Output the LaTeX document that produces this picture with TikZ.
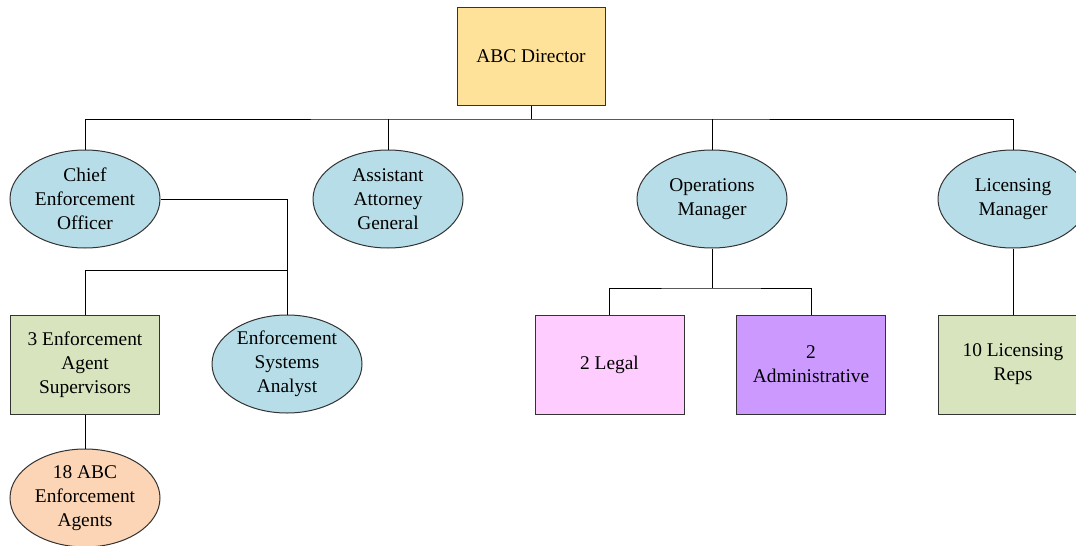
\documentclass[tikz,border=0pt]{standalone}
\usepackage{fontspec}
\setmainfont{Liberation Serif}
\usetikzlibrary{shapes.geometric}
\definecolor{gold}{HTML}{FFE29A}
\definecolor{lblue}{HTML}{B7DEE8}
\definecolor{lgreen}{HTML}{D7E4BD}
\definecolor{peach}{HTML}{FBD5B5}
\definecolor{lpink}{HTML}{FFCCFF}
\definecolor{lpurple}{HTML}{CC99FF}
\tikzset{
  base/.style={draw=black!80, line width=1pt, align=center, inner sep=0pt,
    font=\fontsize{19.4}{24}\selectfont, text=black},
  boxnode/.style={base, rectangle, minimum width=149pt, minimum height=99pt},
  ellnode/.style={base, ellipse, minimum width=150pt, minimum height=98pt},
  conn/.style={draw=black, line width=1pt}
}
\begin{document}
\begin{tikzpicture}[x=1pt,y=-1pt]
\useasboundingbox (0,0) rectangle (1076,546);
\fill[white] (0,0) rectangle (1076,546);
\node[boxnode, fill=gold, minimum width=148pt, minimum height=98pt] (dir) at (531,56) {ABC Director};
\node[ellnode, fill=lblue] (ceo) at (85,199) {Chief\\Enforcement\\Officer};
\node[ellnode, fill=lblue] (aag) at (388,199) {Assistant\\Attorney\\General};
\node[ellnode, fill=lblue] (ops) at (712,199) {Operations\\Manager};
\node[ellnode, fill=lblue] (lic) at (1013,199) {Licensing\\Manager};
\node[boxnode, fill=lgreen] (sup) at (85,364.5) {3 Enforcement\\Agent\\Supervisors};
\node[ellnode, fill=lblue] (esa) at (287,364) {Enforcement\\Systems\\Analyst};
\node[ellnode, fill=peach] (agt) at (85,498) {18 ABC\\Enforcement\\Agents};
\node[boxnode, fill=lpink] (legal) at (609.5,364.5) {2 Legal};
\node[boxnode, fill=lpurple] (adm) at (811,364.5) {2\\Administrative};
\node[boxnode, fill=lgreen] (reps) at (1013,364.5) {10 Licensing\\Reps};
\coordinate (bus) at (531,119);
\draw[conn] (dir.south) -- (bus);
\draw[conn] (ceo.north) |- (bus) -| (lic.north);
\draw[conn] (aag.north) -- (aag.north |- bus);
\draw[conn] (ops.north) -- (ops.north |- bus);
\coordinate (cbus) at (287,270);
\draw[conn] (ceo.east) -| (esa.north);
\draw[conn] (sup.north) |- (cbus);
\draw[conn] (sup.south) -- (agt.north);
\coordinate (obus) at (712,288);
\draw[conn] (ops.south) -- (obus);
\draw[conn] (legal.north) |- (obus) -| (adm.north);
\draw[conn] (lic.south) -- (reps.north);
\end{tikzpicture}
\end{document}
